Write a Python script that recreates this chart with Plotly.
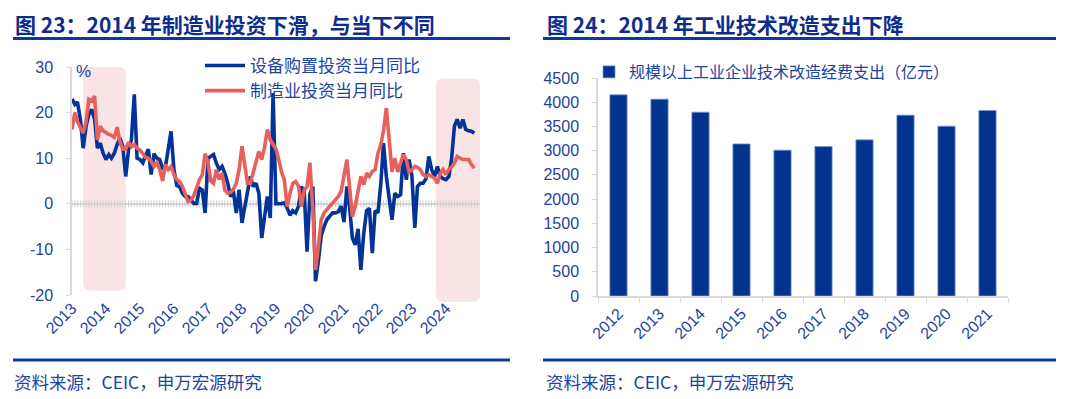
import pandas as pd
import plotly.graph_objects as go

W, H = 1080, 399

# ---------------- data: left chart (monthly, from 2013-01) ----------------
start_month = "2013-01-01"
equip_yoy = [
    23, 21.8, 22.3, 18.5, 12.2, 17, 19.6, 20.7, 18.5, 12.2, 13.3, 11.1,
    9.7, 10.8, 10, 11.1, 13, 14.4, 12.5, 6, 12, 14, 24, 10,
    9.7, 9, 10.5, 12, 6.4, 11, 10, 9.7, 7.8, 8, 12, 15.9,
    7.5, 4, 3.8, 2.3, 1.6, 1.6, 0.9, 0.1, 0.1, 3.4, 3, -2,
    10, 10.4, 10.8, 8.9, 7.5, 8.2, 6.7, 4.5, 1.6, 2.7, -2, 3.1,
    -4.2, -0.6, 2.3, 6, 3.8, 4.5, 2.3, -7.5, -2.8, 1.6, -3.1, 24.3,
    0, 0, 0, 0.2, -0.9, -2.5, -1.5, -2, -0.5, 3.8, 2.5, -10.5,
    2.2, 3.8, -17, -12.5, -7, -5, -3.5, -2.7, -2, -2, -1.7, -0.5,
    -4, 3.8, -0.5, -7.5, -9, -5.5, -14.5, -6.5, -1.5, -1, -10.8, -1.5,
    -2, 4.5, 13.3, 6, 1.6, -3.5, 2.3, 1.6, 2, 11.1, 5.3, 9.7,
    6, -5.3, 3.8, 4.5, 4.5, 5.5, 10.4, 7.5, 6, 8.2, 6, 5.5,
    5.3, 6, 9.7, 17, 18.5, 16.6, 18.5, 16.3, 16, 15.9, 15.5,
]
mfg_yoy = [
    16.3, 20, 18, 16.5, 15.5, 18, 22.9, 22.5, 23.6, 14, 17, 16,
    15.5, 15.2, 15, 14.6, 16.8, 13.5, 12, 12, 13.5, 12.5, 13, 12.2,
    11.8, 10.8, 10.2, 10, 9.3, 8.2, 9, 7.5, 5, 8.6, 7.5, 8.2,
    6.4, 5.3, 4.9, 3.8, 2.3, 0.5, 0.8, 1.8, 3.5, 5.3, 6.4, 11,
    9, 5, 4.5, 7.5, 5.3, 6.7, 3, 2.3, 2.5, 3.2, 4.5, 7.5,
    12.6, 8, 4.5, 4.5, 7, 9.3, 11.5, 9.7, 12.5, 16.3, 14, 13,
    12, 9.7, 7, 5.3, -0.6, 2.3, 4.5, 4.9, 3.8, -0.6, 3, 3.8,
    9, -1.3, -14.5, -9.4, -3.5, -2, -1.3, -0.6, 0.1, 0.9, 1.6, 2.7,
    6, 9.7, 3.8, -2.8, -0.6, 2.7, 6, 4.2, 6.7, 6, 7.1, 7.5,
    11.1, 13, 16, 21, 13, 7, 10, 7, 9, 10.8, 9.7, 7,
    7.5, 8.2, 8, 7.5, 6.4, 6, 6.4, 6, 5.6, 4.5, 6.7, 7.5,
    6.4, 7.5, 8, 8.9, 10.4, 10, 9.7, 9.7, 9.7, 8.6, 7.8,
]
series_names = ["设备购置投资当月同比", "制造业投资当月同比"]
year_labels = [str(y) for y in range(2013, 2025)]
left_ticks = [-20, -10, 0, 10, 20, 30]
left_tick_text = ["-20", "-10", "0", "10", "20", "30"]
shade_starts = ["2013-05-01", "2023-09-15"]
shade_ends = ["2014-08-01", "2025-01-01"]
shade_tops = [30, 27.5]
shade_bottoms = [-19, -21.5]

# ---------------- data: right chart ----------------
bar_years = [str(y) for y in range(2012, 2022)]
tech_spend = [4153, 4063, 3795, 3140, 3010, 3085, 3223, 3733, 3506, 3829]
bar_name = "规模以上工业企业技术改造经费支出（亿元）"

titles = ["图 23：2014 年制造业投资下滑，与当下不同", "图 24：2014 年工业技术改造支出下降"]
sources = ["资料来源：CEIC，申万宏源研究", "资料来源：CEIC，申万宏源研究"]

# ---------------- styles ----------------
NAVY = "#0d2d8c"
TXT = "#2143a0"
BLUE = "#043398"
RED = "#e8605c"
SHADE = "#f8e4e4"
GRID = "#d9d9d9"
FONT = "Liberation Sans, Noto Sans CJK SC, sans-serif"
CJK = "Noto Sans CJK SC, sans-serif"

# pixel layout
LX0, LX1, LYT, LYB = 72, 480, 67, 295
RX0, RX1, RYT, RYB = 598, 1008, 78, 296
x_start, x_end = pd.Timestamp("2013-01-01"), pd.Timestamp("2025-01-01")
y_min, y_max = -20, 30


def fx(px):
    return px / W


def fy(py):
    return 1 - py / H


def date_px(d):
    d = pd.Timestamp(d)
    return LX0 + (d - x_start) / (x_end - x_start) * (LX1 - LX0)


def val_py(v):
    return LYB - (v - y_min) / (y_max - y_min) * (LYB - LYT)


dates = pd.date_range(start_month, periods=len(equip_yoy), freq="MS")
tick_dates = pd.date_range("2013-01-01", periods=len(year_labels), freq="YS")
minor_dates = pd.date_range("2013-01-01", "2024-12-01", freq="MS")

fig = go.Figure()

# small month ticks on the zero line
fig.add_trace(go.Scatter(
    x=minor_dates, y=[0] * len(minor_dates), mode="markers",
    marker=dict(symbol="line-ns", size=5, line=dict(color="#cfcfcf", width=1)),
    hoverinfo="skip", showlegend=False, xaxis="x", yaxis="y"))

fig.add_trace(go.Scatter(
    x=dates, y=equip_yoy, mode="lines", name=series_names[0],
    line=dict(color=BLUE, width=3.6), xaxis="x", yaxis="y", legend="legend"))
fig.add_trace(go.Scatter(
    x=dates, y=mfg_yoy, mode="lines", name=series_names[1],
    line=dict(color=RED, width=3.6), xaxis="x", yaxis="y", legend="legend"))

fig.add_trace(go.Bar(
    x=bar_years, y=tech_spend, name=bar_name,
    marker=dict(color="#02338f", line=dict(color="#7f95cc", width=0.8)),
    xaxis="x2", yaxis="y2", legend="legend2"))

shapes = []
# shaded periods with rounded corners (paper coordinates)
for s, e, t, b in zip(shade_starts, shade_ends, shade_tops, shade_bottoms):
    x0, x1 = fx(date_px(s)), fx(date_px(e))
    yt, yb = fy(val_py(t)), fy(val_py(b))
    rx, ry = 7 / W, 7 / H
    path = (f"M {x0+rx},{yt} L {x1-rx},{yt} Q {x1},{yt} {x1},{yt-ry} "
            f"L {x1},{yb+ry} Q {x1},{yb} {x1-rx},{yb} L {x0+rx},{yb} "
            f"Q {x0},{yb} {x0},{yb+ry} L {x0},{yt-ry} Q {x0},{yt} {x0+rx},{yt} Z")
    shapes.append(dict(type="path", path=path, xref="paper", yref="paper",
                       fillcolor=SHADE, line=dict(width=0), layer="below"))

# title underline and bottom rule for each panel
for (a, b) in [(13, 510), (543, 1056)]:
    shapes.append(dict(type="line", xref="paper", yref="paper",
                       x0=fx(a), x1=fx(b), y0=fy(38.5), y1=fy(38.5),
                       line=dict(color="#0b3a9e", width=3)))
    shapes.append(dict(type="line", xref="paper", yref="paper",
                       x0=fx(a), x1=fx(b), y0=fy(360), y1=fy(360),
                       line=dict(color="#0b3a9e", width=3)))

annotations = []
for i, (xa) in enumerate([13, 545]):
    annotations.append(dict(text=f"<b>{titles[i]}</b>", x=fx(xa), y=fy(24),
                            xref="paper", yref="paper", xanchor="left", yanchor="middle",
                            showarrow=False, font=dict(family=CJK, size=21, color=NAVY)))
    annotations.append(dict(text=sources[i], x=fx(xa - 1), y=fy(381),
                            xref="paper", yref="paper", xanchor="left", yanchor="middle",
                            showarrow=False, font=dict(family=CJK, size=17.5, color=TXT)))
annotations.append(dict(text="%", x=fx(74), y=fy(71), xref="paper", yref="paper",
                        xanchor="left", yanchor="middle", showarrow=False,
                        font=dict(family=FONT, size=17, color=TXT)))

axis_font = dict(family=FONT, size=16, color=TXT)

fig.update_layout(
    width=W, height=H, autosize=False,
    margin=dict(l=0, r=0, t=0, b=0, pad=0, autoexpand=False),
    paper_bgcolor="white", plot_bgcolor="rgba(0,0,0,0)",
    showlegend=True,
    xaxis=dict(domain=[fx(LX0), fx(LX1)], type="date",
               range=[x_start, x_end], tickvals=tick_dates, ticktext=year_labels,
               tickangle=-45, tickfont=axis_font, showline=False, showgrid=False,
               zeroline=False, ticks="", anchor="y", automargin=False),
    yaxis=dict(domain=[fy(LYB), fy(LYT)], range=[y_min, y_max],
               tickvals=left_ticks, ticktext=left_tick_text,
               tickfont=axis_font, showline=True, linecolor=GRID, linewidth=1.5,
               ticks="outside", ticklen=4, tickcolor=GRID, showgrid=False,
               zeroline=True, zerolinecolor="#d4d4d4", zerolinewidth=2,
               ticklabelstandoff=10, anchor="x", automargin=False),
    xaxis2=dict(domain=[fx(RX0), fx(RX1)], type="category", tickangle=-45,
                tickfont=axis_font, showline=True, linecolor=GRID, linewidth=2,
                ticks="outside", tickson="boundaries", ticklen=5, tickcolor=GRID,
                showgrid=False, anchor="y2", automargin=False),
    yaxis2=dict(domain=[fy(RYB), fy(RYT)], range=[0, 4500], dtick=500,
                tickfont=axis_font, showline=True, linecolor=GRID, linewidth=1.5,
                ticks="outside", ticklen=4, tickcolor=GRID, showgrid=False,
                zeroline=False, ticklabelstandoff=10, anchor="x2", automargin=False),
    bargap=0.58,
    legend=dict(x=fx(200), y=fy(48), xanchor="left", yanchor="top",
                bgcolor="rgba(0,0,0,0)", font=dict(family=CJK, size=17, color=TXT),
                itemwidth=40, tracegroupgap=0),
    legend2=dict(x=fx(589), y=fy(55), xanchor="left", yanchor="top",
                 bgcolor="rgba(0,0,0,0)", font=dict(family=CJK, size=16, color=TXT),
                 itemwidth=30),
    shapes=shapes,
    annotations=annotations,
)

fig.write_html(
    "out.html",
    config={"displayModeBar": False},
    post_script="document.body.style.margin='0';document.body.style.overflow='hidden';",
)
